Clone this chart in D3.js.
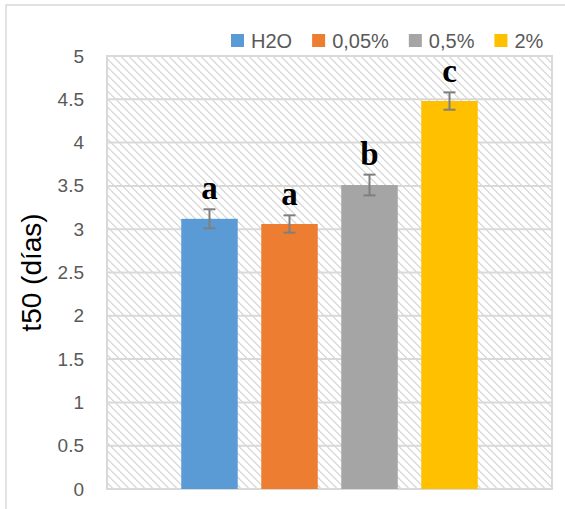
<!DOCTYPE html>
<html>
<head>
<meta charset="utf-8">
<script src="https://cdn.jsdelivr.net/npm/d3@7"></script>
<style>
  html, body { margin: 0; padding: 0; background: #fff; }
  svg { display: block; }
</style>
</head>
<body>
<svg id="chart" width="565" height="509"></svg>
<script>
// Treatments, mean t50 (days), standard error and significance letters
const treatments = ["H2O", "0,05%", "0,5%", "2%"];
const t50Values = [3.12, 3.06, 3.51, 4.48];
const t50Errors = [0.11, 0.10, 0.12, 0.10];
const groupLetters = ["a", "a", "b", "c"];
const barColors = ["#5b9bd5", "#ed7d31", "#a5a5a5", "#ffc000"];
const yTicks = [0, 0.5, 1, 1.5, 2, 2.5, 3, 3.5, 4, 4.5, 5];

const svg = d3.select("#chart");
const plot = { left: 107, right: 552, top: 56, bottom: 489 };
const sansFont = "'Liberation Sans', Arial, sans-serif";

// Outer chart frame
svg.append("rect")
  .attr("x", 6).attr("y", 5).attr("width", 600).attr("height", 600)
  .attr("fill", "#fff").attr("stroke", "#d9d9d9").attr("stroke-width", 1.5);

// Hatched plot background (wide downward diagonal)
const defs = svg.append("defs");
const pat = defs.append("pattern")
  .attr("id", "hatch").attr("patternUnits", "userSpaceOnUse")
  .attr("width", 8).attr("height", 8);
pat.append("rect").attr("width", 8).attr("height", 8).attr("fill", "#fff");
for (let i = 0; i < 8; i++) {
  for (let k = 0; k < 2; k++) {
    pat.append("rect")
      .attr("x", (i + k) % 8).attr("y", i)
      .attr("width", 1).attr("height", 1)
      .attr("fill", "#dcdcdc");
  }
}

const y = d3.scaleLinear().domain([0, 5]).range([plot.bottom, plot.top]);
const x = d3.scaleBand()
  .domain(treatments)
  .range([plot.left, plot.right])
  .paddingInner(0.294)
  .paddingOuter(0.928);

svg.append("rect")
  .attr("x", plot.left).attr("y", plot.top)
  .attr("width", plot.right - plot.left).attr("height", plot.bottom - plot.top)
  .attr("fill", "url(#hatch)");

// Horizontal gridlines
svg.append("g")
  .selectAll("line")
  .data(yTicks.filter(d => d > 0 && d < 5))
  .join("line")
  .attr("x1", plot.left).attr("x2", plot.right)
  .attr("y1", d => y(d)).attr("y2", d => y(d))
  .attr("stroke", "#d9d9d9").attr("stroke-width", 2);

// Plot area border
svg.append("rect")
  .attr("x", plot.left).attr("y", plot.top)
  .attr("width", plot.right - plot.left).attr("height", plot.bottom - plot.top)
  .attr("fill", "none").attr("stroke", "#d9d9d9").attr("stroke-width", 2);

// Y axis labels
const yAxis = d3.axisLeft(y).tickValues(yTicks).tickSize(0).tickPadding(0)
  .tickFormat(d3.format("~g"));
const gy = svg.append("g")
  .attr("transform", `translate(${84},0)`)
  .call(yAxis);
gy.select(".domain").remove();
gy.selectAll("text")
  .attr("fill", "#595959")
  .style("font-family", sansFont)
  .style("font-size", "19px");

// Bars
const data = treatments.map((t, i) => ({
  t, v: t50Values[i], e: t50Errors[i], letter: groupLetters[i], color: barColors[i]
}));

svg.append("g")
  .selectAll("rect")
  .data(data)
  .join("rect")
  .attr("x", d => x(d.t))
  .attr("y", d => y(d.v))
  .attr("width", x.bandwidth())
  .attr("height", d => y(0) - y(d.v))
  .attr("fill", d => d.color);

// Error bars
const eb = svg.append("g").attr("stroke", "#7f7f7f").attr("stroke-width", 2);
data.forEach(d => {
  const cx = x(d.t) + x.bandwidth() / 2;
  eb.append("line").attr("x1", cx).attr("x2", cx)
    .attr("y1", y(d.v + d.e)).attr("y2", y(d.v - d.e));
  eb.append("line").attr("x1", cx - 6).attr("x2", cx + 6)
    .attr("y1", y(d.v + d.e)).attr("y2", y(d.v + d.e));
  eb.append("line").attr("x1", cx - 6).attr("x2", cx + 6)
    .attr("y1", y(d.v - d.e)).attr("y2", y(d.v - d.e));
});

// Significance letters
svg.append("g")
  .selectAll("text")
  .data(data)
  .join("text")
  .attr("x", d => x(d.t) + x.bandwidth() / 2)
  .attr("y", d => y(d.v + d.e) - 10)
  .attr("text-anchor", "middle")
  .style("font-family", "'Liberation Serif', 'Times New Roman', serif")
  .style("font-weight", "bold")
  .style("font-size", "33px")
  .attr("fill", "#000")
  .text(d => d.letter);

// Y axis title
svg.append("text")
  .attr("transform", `translate(${41},${(plot.top + plot.bottom) / 2}) rotate(-90)`)
  .attr("text-anchor", "middle")
  .style("font-family", sansFont)
  .style("font-size", "28px")
  .attr("fill", "#000")
  .text("t50 (días)");

// Legend
const legend = svg.append("g");
let lx = 231;
data.forEach(d => {
  legend.append("rect")
    .attr("x", lx).attr("y", 34).attr("width", 13).attr("height", 13)
    .attr("fill", d.color);
  const txt = legend.append("text")
    .attr("x", lx + 20).attr("y", 47.5)
    .style("font-family", sansFont)
    .style("font-size", "20px")
    .attr("fill", "#595959")
    .text(d.t);
  lx += 20 + txt.node().getComputedTextLength() + 20;
});
</script>
</body>
</html>
